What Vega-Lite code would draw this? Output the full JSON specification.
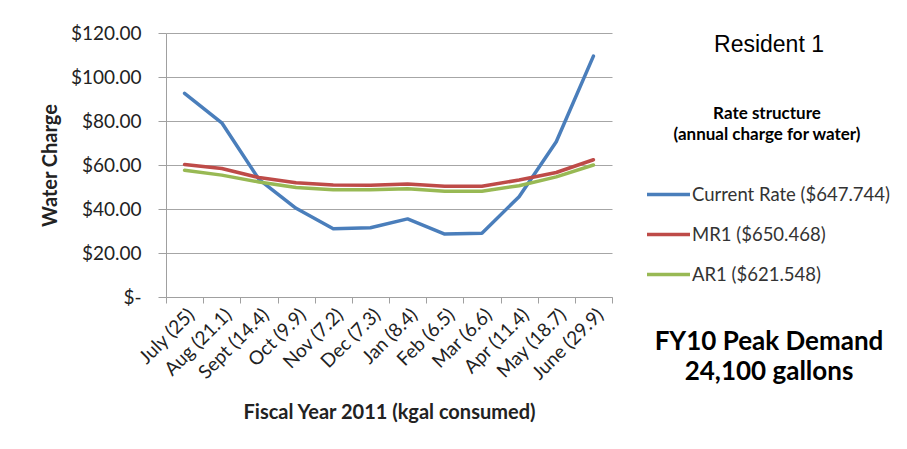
{
  "$schema": "https://vega.github.io/schema/vega-lite/v6.json",
  "width": 446,
  "height": 264,
  "autosize": {"type": "none"},
  "padding": {"left": 166, "top": 33, "right": 295, "bottom": 152},
  "background": "white",
  "title": {
    "text": "Resident 1",
    "subtitle": ["FY10 Peak Demand", "24,100 gallons"],
    "anchor": "end",
    "frame": "group",
    "align": "center",
    "orient": "top",
    "offset": 0,
    "dx": 157,
    "dy": 361,
    "font": "Liberation Sans",
    "fontSize": 23,
    "fontWeight": "normal",
    "color": "black",
    "subtitleFont": "Lato",
    "subtitleFontSize": 26,
    "subtitleFontWeight": "bold",
    "subtitleColor": "black",
    "subtitleLineHeight": 30,
    "subtitlePadding": 272
  },
  "data": {
    "values": [
      {"month": "July (25)", "series": "Current Rate ($647.744)", "charge": 92.6},
      {"month": "Aug (21.1)", "series": "Current Rate ($647.744)", "charge": 79.2},
      {"month": "Sept (14.4)", "series": "Current Rate ($647.744)", "charge": 53.5},
      {"month": "Oct (9.9)", "series": "Current Rate ($647.744)", "charge": 40.3},
      {"month": "Nov (7.2)", "series": "Current Rate ($647.744)", "charge": 31.0},
      {"month": "Dec (7.3)", "series": "Current Rate ($647.744)", "charge": 31.5},
      {"month": "Jan (8.4)", "series": "Current Rate ($647.744)", "charge": 35.5},
      {"month": "Feb (6.5)", "series": "Current Rate ($647.744)", "charge": 28.6},
      {"month": "Mar (6.6)", "series": "Current Rate ($647.744)", "charge": 29.0},
      {"month": "Apr (11.4)", "series": "Current Rate ($647.744)", "charge": 45.6},
      {"month": "May (18.7)", "series": "Current Rate ($647.744)", "charge": 70.6},
      {"month": "June (29.9)", "series": "Current Rate ($647.744)", "charge": 109.5},
      {"month": "July (25)", "series": "MR1 ($650.468)", "charge": 60.2},
      {"month": "Aug (21.1)", "series": "MR1 ($650.468)", "charge": 58.4},
      {"month": "Sept (14.4)", "series": "MR1 ($650.468)", "charge": 54.3},
      {"month": "Oct (9.9)", "series": "MR1 ($650.468)", "charge": 51.9},
      {"month": "Nov (7.2)", "series": "MR1 ($650.468)", "charge": 50.9},
      {"month": "Dec (7.3)", "series": "MR1 ($650.468)", "charge": 50.8},
      {"month": "Jan (8.4)", "series": "MR1 ($650.468)", "charge": 51.4},
      {"month": "Feb (6.5)", "series": "MR1 ($650.468)", "charge": 50.3},
      {"month": "Mar (6.6)", "series": "MR1 ($650.468)", "charge": 50.3},
      {"month": "Apr (11.4)", "series": "MR1 ($650.468)", "charge": 53.2},
      {"month": "May (18.7)", "series": "MR1 ($650.468)", "charge": 56.6},
      {"month": "June (29.9)", "series": "MR1 ($650.468)", "charge": 62.4},
      {"month": "July (25)", "series": "AR1 ($621.548)", "charge": 57.6},
      {"month": "Aug (21.1)", "series": "AR1 ($621.548)", "charge": 55.4},
      {"month": "Sept (14.4)", "series": "AR1 ($621.548)", "charge": 52.3},
      {"month": "Oct (9.9)", "series": "AR1 ($621.548)", "charge": 49.8},
      {"month": "Nov (7.2)", "series": "AR1 ($621.548)", "charge": 48.7},
      {"month": "Dec (7.3)", "series": "AR1 ($621.548)", "charge": 48.7},
      {"month": "Jan (8.4)", "series": "AR1 ($621.548)", "charge": 49.2},
      {"month": "Feb (6.5)", "series": "AR1 ($621.548)", "charge": 48.1},
      {"month": "Mar (6.6)", "series": "AR1 ($621.548)", "charge": 48.1},
      {"month": "Apr (11.4)", "series": "AR1 ($621.548)", "charge": 50.6},
      {"month": "May (18.7)", "series": "AR1 ($621.548)", "charge": 54.6},
      {"month": "June (29.9)", "series": "AR1 ($621.548)", "charge": 60.0}
    ]
  },
  "mark": {"type": "line", "strokeWidth": 3.5, "strokeJoin": "round", "strokeCap": "round"},
  "encoding": {
    "x": {
      "field": "month",
      "type": "nominal",
      "sort": null,
      "scale": {"type": "band", "paddingInner": 0, "paddingOuter": 0},
      "axis": {
        "title": "Fiscal Year 2011 (kgal consumed)",
        "titleFont": "Lato",
        "titleFontSize": 20,
        "titleFontWeight": "bold",
        "titleColor": "#222",
        "titlePadding": 19,
        "labelAngle": -45,
        "labelFont": "Lato",
        "labelFontSize": 19,
        "labelColor": "#222",
        "labelPadding": 2,
        "tickBand": "extent",
        "tickSize": 6,
        "tickColor": "#a0a0a0",
        "domainColor": "#a0a0a0",
        "grid": false
      }
    },
    "y": {
      "field": "charge",
      "type": "quantitative",
      "scale": {"domain": [0, 120], "nice": false},
      "axis": {
        "title": "Water Charge",
        "titleFont": "Lato",
        "titleFontSize": 20,
        "titleFontWeight": "bold",
        "titleColor": "#222",
        "titlePadding": 10,
        "values": [0, 20, 40, 60, 80, 100, 120],
        "labelExpr": "datum.value == 0 ? '$-' : '$' + format(datum.value, '.2f')",
        "labelFont": "Lato",
        "labelFontSize": 19,
        "labelColor": "#222",
        "labelPadding": 17,
        "tickSize": 8,
        "tickColor": "#a0a0a0",
        "domainColor": "#a0a0a0",
        "grid": true,
        "gridColor": "#a6a6a6",
        "gridWidth": 1
      }
    },
    "color": {
      "field": "series",
      "type": "nominal",
      "sort": ["Current Rate ($647.744)", "MR1 ($650.468)", "AR1 ($621.548)"],
      "scale": {
        "domain": ["Current Rate ($647.744)", "MR1 ($650.468)", "AR1 ($621.548)"],
        "range": ["#4a7ebb", "#be4b48", "#98b954"]
      },
      "legend": {
        "orient": "none",
        "legendX": 479,
        "legendY": 73,
        "title": ["Rate structure", "(annual charge for water)"],
        "titleFont": "Lato",
        "titleFontSize": 17,
        "titleFontWeight": "bold",
        "titleColor": "black",
        "titleAnchor": "middle",
        "titleLimit": 400,
        "titleLineHeight": 21,
        "titlePadding": 27,
        "symbolType": "stroke",
        "symbolSize": 1849,
        "symbolStrokeWidth": 3.5,
        "labelFont": "Lato",
        "labelFontSize": 18.5,
        "labelColor": "#333",
        "labelOffset": 0,
        "labelLimit": 400,
        "rowPadding": 7
      }
    }
  },
  "config": {
    "view": {"stroke": null}
  }
}
